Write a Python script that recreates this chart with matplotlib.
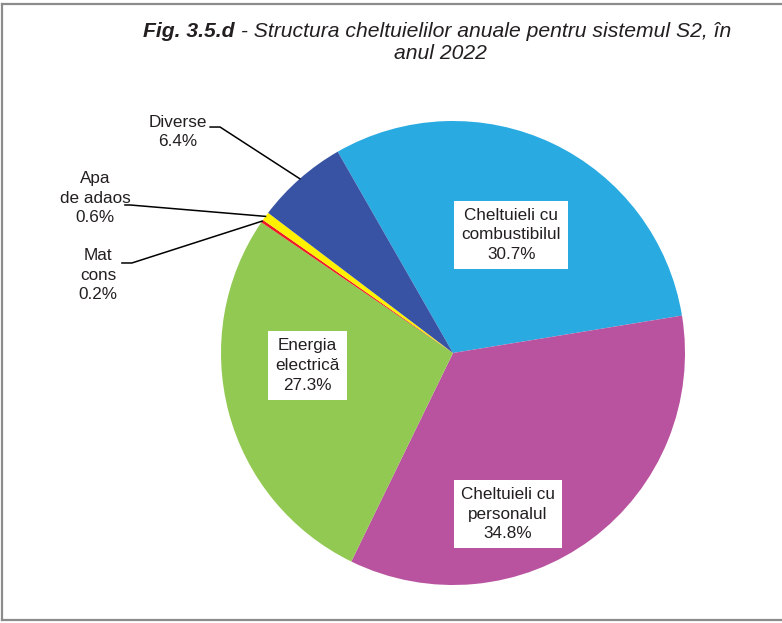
import matplotlib
matplotlib.use("Agg")
import matplotlib.pyplot as plt
import numpy as np

plt.rcParams['font.family'] = ['Liberation Sans', 'DejaVu Sans']

# slices, clockwise from the top
labels = ['Cheltuieli cu\ncombustibilul', 'Cheltuieli cu\npersonalul', 'Energia\nelectrică',
          'Mat\ncons', 'Apa\nde adaos', 'Diverse']
values = [30.7, 34.8, 27.3, 0.2, 0.6, 6.4]
colors = ['#29ABE2', '#B9539F', '#92C952', '#ED1C24', '#FFF200', '#3953A4']

W, H = 782, 623
CX, CY, R = 453, 353, 232
START = 119.8

fig = plt.figure(figsize=(W / 100, H / 100), dpi=100)
ax = fig.add_axes([0, 0, 1, 1])

wedges, _ = ax.pie(values, colors=colors, startangle=START, counterclock=False,
                   radius=1, wedgeprops=dict(linewidth=0))
ax.set_xlim(-CX / R, (W - CX) / R)
ax.set_ylim((CY - H) / R, CY / R)
ax.set_aspect('auto')
ax.axis('off')

txtc = '#231F20'
fs = 12.3
ls = 1.4

def lab(i):
    return f"{labels[i]}\n{values[i]:.1f}%"

# inner labels with white box
inner = {0: (0.251, 0.509), 1: (0.237, -0.694), 2: (-0.627, -0.054)}
for i, (x, y) in inner.items():
    ax.text(x, y, lab(i), ha='center', va='center', fontsize=fs, color=txtc,
            linespacing=ls,
            bbox=dict(facecolor='white', edgecolor='none', pad=5))

# outer labels with leader lines: text pos, line start, elbow
outer = {
    5: ((-1.185, 0.953), (-1.047, 0.974), (-1.004, 0.974)),
    4: ((-1.543, 0.668), (-1.414, 0.638), (-1.392, 0.638)),
    3: ((-1.530, 0.336), (-1.427, 0.388), (-1.384, 0.388)),
}
for i, (tp, p0, p1) in outer.items():
    w = wedges[i]
    mid = np.deg2rad((w.theta1 + w.theta2) / 2)
    ex, ey = np.cos(mid), np.sin(mid)
    ax.plot([p0[0], p1[0], ex], [p0[1], p1[1], ey], color='black', lw=1.1,
            solid_joinstyle='miter')
    ax.text(tp[0], tp[1], lab(i), ha='center', va='center', fontsize=fs,
            color=txtc, linespacing=ls)

# title
tfs = 15.2
t1 = fig.text(143 / W, 1 - 37 / H, 'Fig. 3.5.d', fontsize=tfs, fontweight='bold',
              fontstyle='italic', color=txtc, ha='left', va='baseline')
fig.canvas.draw()
bb = t1.get_window_extent()
fig.text(bb.x1 / W, 1 - 37 / H, ' - Structura cheltuielilor anuale pentru sistemul S2, în',
         fontsize=tfs, fontstyle='italic', color=txtc, ha='left', va='baseline')
fig.text(440 / W, 1 - 59 / H, 'anul 2022', fontsize=tfs, fontstyle='italic',
         color=txtc, ha='center', va='baseline')

# frame round the chart area
bc = '#8C8C8C'
fig.add_artist(plt.Line2D([2 / W, 2 / W], [1 - 4 / H, 1 - 620 / H], color=bc, lw=1.6,
                          transform=fig.transFigure))
fig.add_artist(plt.Line2D([2 / W, 1.01], [1 - 4 / H, 1 - 4 / H], color=bc, lw=1.6,
                          transform=fig.transFigure))
fig.add_artist(plt.Line2D([2 / W, 1.01], [1 - 620 / H, 1 - 620 / H], color=bc, lw=1.6,
                          transform=fig.transFigure))

fig.savefig('out.png', dpi=100)
